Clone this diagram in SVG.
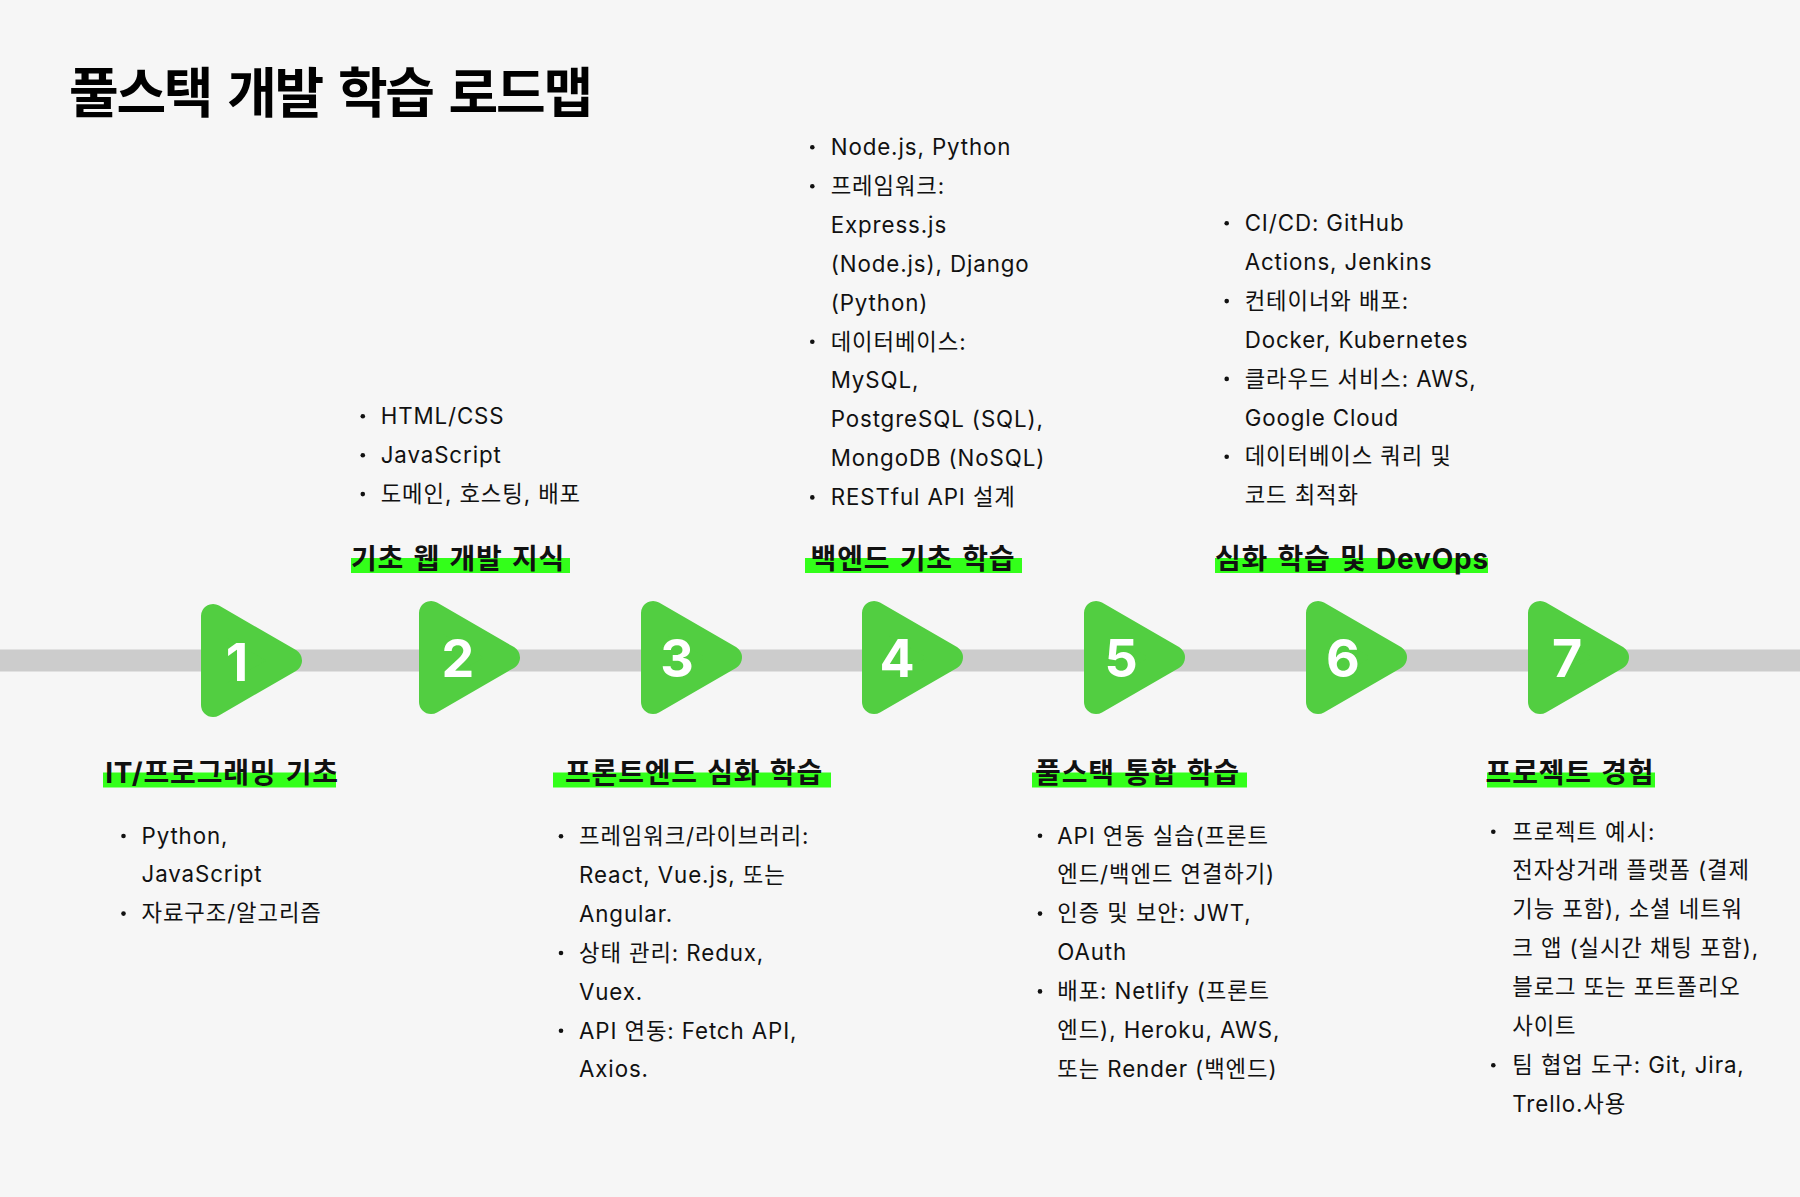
<svg xmlns="http://www.w3.org/2000/svg" width="1800" height="1197" viewBox="0 0 1800 1197">
<style>
.bg{fill:#f6f6f6}
.bar{fill:#cccccc}
.tri{fill:#52ce41;stroke:#52ce41;stroke-width:24;stroke-linejoin:round}
.num{font-family:"Inter","Noto Sans CJK KR",sans-serif;font-weight:700;font-size:52px;fill:#ffffff;text-anchor:middle}
.hl{fill:#33ff1a}
.ttl{font-family:"Inter","Noto Sans CJK KR",sans-serif;font-weight:700;font-size:28px;letter-spacing:0.8px;word-spacing:2px;fill:#111111;text-anchor:middle}
.txt{font-family:"Inter","Noto Sans CJK KR",sans-serif;font-weight:400;font-size:22.3px;letter-spacing:0.9px;fill:#111111}
.dot{fill:#111111}
.main{font-family:"Inter","Noto Sans CJK KR",sans-serif;font-weight:700;font-size:54px;letter-spacing:-2.3px;word-spacing:5.5px;fill:#000000}
</style>
<rect class="bg" x="0" y="0" width="1800" height="1197"/>
<text class="main" x="69" y="113">풀스택 개발 학습 로드맵</text>
<g id="connectors">
<rect class="bar" x="0" y="649.5" width="1800" height="22"/>
</g>
<g id="node1">
<polygon class="tri" points="213,616 213,705 290,660.5"/>
<text class="num" x="237" y="681">1</text>
<rect class="hl" x="103" y="772.5" width="233" height="15"/>
<text class="ttl" x="222" y="783">IT/프로그래밍 기초</text>
<circle class="dot" cx="123.5" cy="836" r="2.3"/>
<circle class="dot" cx="123.5" cy="913.6" r="2.3"/>
<text class="txt"><tspan x="141.5" y="843.5">Python,</tspan><tspan x="141.5" y="882.4">JavaScript</tspan><tspan x="141.5" y="921.3">자료구조/알고리즘</tspan></text>
</g>
<g id="node2">
<polygon class="tri" points="431,613 431,702 508,657.5"/>
<text class="num" x="458" y="677">2</text>
<rect class="hl" x="351" y="558" width="219" height="15"/>
<text class="ttl" x="458" y="568.5">기초 웹 개발 지식</text>
<circle class="dot" cx="362.8" cy="416.3" r="2.3"/>
<circle class="dot" cx="362.8" cy="455.2" r="2.3"/>
<circle class="dot" cx="362.8" cy="494.1" r="2.3"/>
<text class="txt"><tspan x="380.7" y="424">HTML/CSS</tspan><tspan x="380.7" y="462.9">JavaScript</tspan><tspan x="380.7" y="501.8">도메인, 호스팅, 배포</tspan></text>
</g>
<g id="node3">
<polygon class="tri" points="653,613 653,702 730,657.5"/>
<text class="num" x="677" y="677">3</text>
<rect class="hl" x="553" y="772.5" width="278" height="15"/>
<text class="ttl" x="694" y="783">프론트엔드 심화 학습</text>
<circle class="dot" cx="561" cy="836.3" r="2.3"/>
<circle class="dot" cx="561" cy="953" r="2.3"/>
<circle class="dot" cx="561" cy="1030.8" r="2.3"/>
<text class="txt"><tspan x="579" y="844">프레임워크/라이브러리:</tspan><tspan x="579" y="882.9">React, Vue.js, 또는</tspan><tspan x="579" y="921.8">Angular.</tspan><tspan x="579" y="960.7">상태 관리: Redux,</tspan><tspan x="579" y="999.6">Vuex.</tspan><tspan x="579" y="1038.5">API 연동: Fetch API,</tspan><tspan x="579" y="1077.4">Axios.</tspan></text>
</g>
<g id="node4">
<polygon class="tri" points="874,613 874,702 951,657.5"/>
<text class="num" x="897" y="677">4</text>
<rect class="hl" x="805" y="558" width="217" height="15"/>
<text class="ttl" x="913" y="568.5">백엔드 기초 학습</text>
<circle class="dot" cx="812.3" cy="147.3" r="2.3"/>
<circle class="dot" cx="812.3" cy="186.2" r="2.3"/>
<circle class="dot" cx="812.3" cy="341.8" r="2.3"/>
<circle class="dot" cx="812.3" cy="497.4" r="2.3"/>
<text class="txt"><tspan x="830.7" y="155">Node.js, Python</tspan><tspan x="830.7" y="193.9">프레임워크:</tspan><tspan x="830.7" y="232.8">Express.js</tspan><tspan x="830.7" y="271.7">(Node.js), Django</tspan><tspan x="830.7" y="310.6">(Python)</tspan><tspan x="830.7" y="349.5">데이터베이스:</tspan><tspan x="830.7" y="388.4">MySQL,</tspan><tspan x="830.7" y="427.3">PostgreSQL (SQL),</tspan><tspan x="830.7" y="466.2">MongoDB (NoSQL)</tspan><tspan x="830.7" y="505.1">RESTful API 설계</tspan></text>
</g>
<g id="node5">
<polygon class="tri" points="1096,613 1096,702 1173,657.5"/>
<text class="num" x="1121" y="677">5</text>
<rect class="hl" x="1032" y="772.5" width="215" height="15"/>
<text class="ttl" x="1137.5" y="783">풀스택 통합 학습</text>
<circle class="dot" cx="1040" cy="835.8" r="2.3"/>
<circle class="dot" cx="1040" cy="913.6" r="2.3"/>
<circle class="dot" cx="1040" cy="991.4" r="2.3"/>
<text class="txt"><tspan x="1057.3" y="843.5">API 연동 실습(프론트</tspan><tspan x="1057.3" y="882.4">엔드/백엔드 연결하기)</tspan><tspan x="1057.3" y="921.3">인증 및 보안: JWT,</tspan><tspan x="1057.3" y="960.2">OAuth</tspan><tspan x="1057.3" y="999.1">배포: Netlify (프론트</tspan><tspan x="1057.3" y="1038">엔드), Heroku, AWS,</tspan><tspan x="1057.3" y="1076.9">또는 Render (백엔드)</tspan></text>
</g>
<g id="node6">
<polygon class="tri" points="1318,613 1318,702 1395,657.5"/>
<text class="num" x="1343" y="677">6</text>
<rect class="hl" x="1215" y="558" width="273" height="15"/>
<text class="ttl" x="1352" y="568.5">심화 학습 및 DevOps</text>
<circle class="dot" cx="1226.7" cy="223.3" r="2.3"/>
<circle class="dot" cx="1226.7" cy="301.1" r="2.3"/>
<circle class="dot" cx="1226.7" cy="378.9" r="2.3"/>
<circle class="dot" cx="1226.7" cy="456.7" r="2.3"/>
<text class="txt"><tspan x="1244.7" y="231">CI/CD: GitHub</tspan><tspan x="1244.7" y="269.9">Actions, Jenkins</tspan><tspan x="1244.7" y="308.8">컨테이너와 배포:</tspan><tspan x="1244.7" y="347.7">Docker, Kubernetes</tspan><tspan x="1244.7" y="386.6">클라우드 서비스: AWS,</tspan><tspan x="1244.7" y="425.5">Google Cloud</tspan><tspan x="1244.7" y="464.4">데이터베이스 쿼리 및</tspan><tspan x="1244.7" y="503.3">코드 최적화</tspan></text>
</g>
<g id="node7">
<polygon class="tri" points="1540,613 1540,702 1617,657.5"/>
<text class="num" x="1567" y="677">7</text>
<rect class="hl" x="1487" y="772.5" width="168" height="15"/>
<text class="ttl" x="1570" y="783">프로젝트 경험</text>
<circle class="dot" cx="1493.3" cy="831.8" r="2.3"/>
<circle class="dot" cx="1493.3" cy="1065.2" r="2.3"/>
<text class="txt"><tspan x="1512.3" y="839.5">프로젝트 예시:</tspan><tspan x="1512.3" y="878.4">전자상거래 플랫폼 (결제</tspan><tspan x="1512.3" y="917.3">기능 포함), 소셜 네트워</tspan><tspan x="1512.3" y="956.2">크 앱 (실시간 채팅 포함),</tspan><tspan x="1512.3" y="995.1">블로그 또는 포트폴리오</tspan><tspan x="1512.3" y="1034">사이트</tspan><tspan x="1512.3" y="1072.9">팀 협업 도구: Git, Jira,</tspan><tspan x="1512.3" y="1111.8">Trello.사용</tspan></text>
</g>
</svg>
